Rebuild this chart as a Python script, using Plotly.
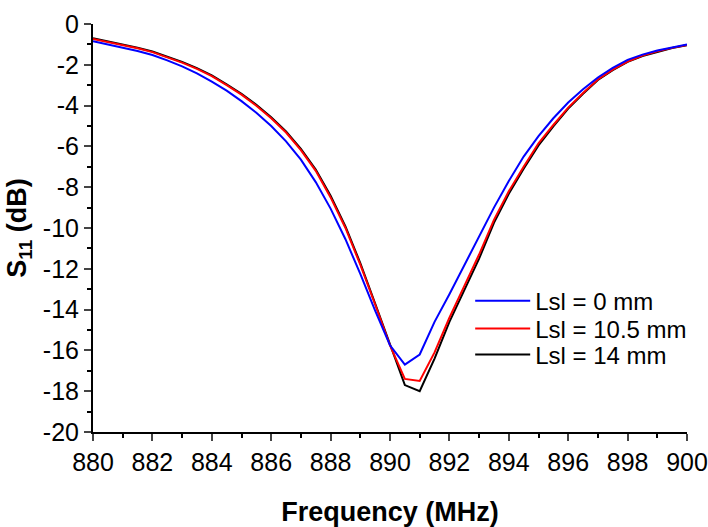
import plotly.graph_objects as go

freq = [880.0, 880.5, 881.0, 881.5, 882.0, 882.5, 883.0, 883.5, 884.0, 884.5,
        885.0, 885.5, 886.0, 886.5, 887.0, 887.5, 888.0, 888.5, 889.0, 889.5,
        890.0, 890.5, 891.0, 891.5, 892.0, 892.5, 893.0, 893.5, 894.0, 894.5,
        895.0, 895.5, 896.0, 896.5, 897.0, 897.5, 898.0, 898.5, 899.0, 899.5, 900.0]

s11_lsl_0 = [-0.85, -1.00, -1.15, -1.32, -1.52, -1.78, -2.08, -2.42, -2.82, -3.27,
             -3.78, -4.35, -5.00, -5.75, -6.65, -7.75, -9.05, -10.55, -12.25, -14.05,
             -15.75, -16.70, -16.20, -14.60, -13.25, -11.85, -10.45, -9.00, -7.70, -6.50,
             -5.50, -4.62, -3.85, -3.20, -2.62, -2.15, -1.76, -1.50, -1.30, -1.14, -1.00]

s11_lsl_105 = [-0.74, -0.88, -1.03, -1.19, -1.38, -1.63, -1.89, -2.20, -2.56, -3.00,
               -3.46, -4.01, -4.62, -5.32, -6.18, -7.20, -8.50, -10.00, -11.80, -13.75,
               -15.75, -17.40, -17.50, -16.10, -14.40, -12.85, -11.30, -9.60, -8.20, -7.00,
               -5.85, -4.95, -4.10, -3.38, -2.72, -2.24, -1.84, -1.55, -1.34, -1.17, -1.03]

s11_lsl_14 = [-0.70, -0.85, -1.00, -1.16, -1.35, -1.60, -1.86, -2.16, -2.52, -2.96,
              -3.42, -3.96, -4.57, -5.27, -6.12, -7.13, -8.42, -9.92, -11.72, -13.70,
              -15.75, -17.70, -18.00, -16.40, -14.60, -13.05, -11.50, -9.75, -8.32, -7.10,
              -5.95, -5.02, -4.15, -3.42, -2.74, -2.26, -1.86, -1.57, -1.36, -1.18, -1.04]

x_tick_vals = [880, 882, 884, 886, 888, 890, 892, 894, 896, 898, 900]
x_tick_text = ["880", "882", "884", "886", "888", "890", "892", "894", "896", "898", "900"]
y_tick_vals = [0, -2, -4, -6, -8, -10, -12, -14, -16, -18, -20]
y_tick_text = ["0", "-2", "-4", "-6", "-8", "-10", "-12", "-14", "-16", "-18", "-20"]

# (name, values, colour, legend id, legend row position in paper coords)
series = [
    ("Lsl = 14 mm", s11_lsl_14, "#000000", "legend3", 0.189),
    ("Lsl = 10.5 mm", s11_lsl_105, "#FF0000", "legend2", 0.253),
    ("Lsl = 0 mm", s11_lsl_0, "#0000FF", "legend", 0.321),
]

fig = go.Figure()
for name, vals, color, leg, _ in series:
    fig.add_trace(go.Scatter(x=freq, y=vals, mode="lines", name=name, legend=leg,
                             line=dict(color=color, width=2)))

font_family = "Liberation Sans, Arial, sans-serif"

legend_common = dict(x=0.635, xanchor="left", yanchor="middle",
                     bgcolor="rgba(0,0,0,0)", font=dict(size=24), itemwidth=55)
legends = {}
for name, vals, color, leg, ypos in series:
    legends[leg] = dict(legend_common, y=ypos)

fig.update_layout(
    width=708, height=527,
    margin=dict(l=93, r=21, t=24, b=95, autoexpand=False),
    paper_bgcolor="white", plot_bgcolor="white",
    font=dict(family=font_family, size=25, color="black"),
    showlegend=True,
    **legends,
    xaxis=dict(
        range=[880, 900], tickmode="array", tickvals=x_tick_vals, ticktext=x_tick_text,
        ticks="outside", ticklen=7, tickwidth=2, tickfont=dict(size=25), automargin=False,
        showline=True, linewidth=2, linecolor="black", showgrid=False, zeroline=False,
        minor=dict(dtick=1, tick0=880, ticks="outside", ticklen=4, tickwidth=2, tickcolor="black"),
        title=dict(text="<b>Frequency (MHz)</b>", font=dict(size=27), standoff=30),
    ),
    yaxis=dict(
        range=[-20, 0], tickmode="array", tickvals=y_tick_vals, ticktext=y_tick_text,
        ticks="outside", ticklen=7, tickwidth=2, tickfont=dict(size=25), automargin=False,
        showline=True, linewidth=2, linecolor="black", showgrid=False, zeroline=False,
        minor=dict(dtick=1, tick0=0, ticks="outside", ticklen=4, tickwidth=2, tickcolor="black"),
        title=dict(text="<b>S<sub>11</sub> (dB)</b>", font=dict(size=27), standoff=8),
    ),
)

fig.write_html("out.html")
